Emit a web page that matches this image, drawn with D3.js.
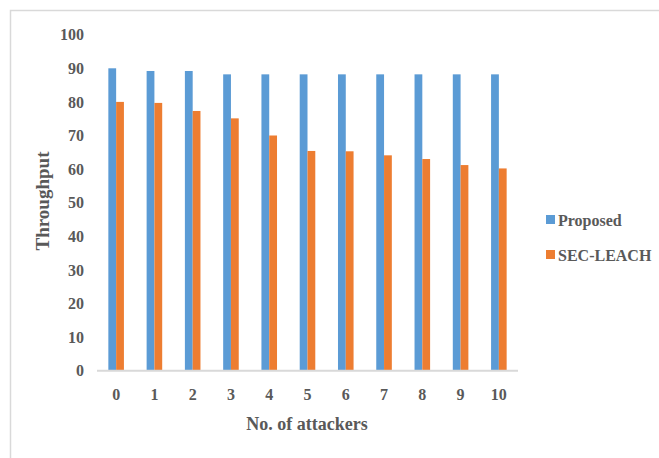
<!DOCTYPE html>
<html>
<head>
<meta charset="utf-8">
<script src="https://cdn.jsdelivr.net/npm/d3@7/dist/d3.min.js"></script>
<style>
  html, body { margin: 0; padding: 0; background: #fff; }
  svg { display: block; }
  text { font-family: "Liberation Serif", "Times New Roman", serif; font-weight: bold; fill: #595959; }
</style>
</head>
<body>
<script>
// Throughput vs. number of attackers
const attackers = ["0", "1", "2", "3", "4", "5", "6", "7", "8", "9", "10"];
const seriesNames = ["Proposed", "SEC-LEACH"];
const proposed = [90, 89.2, 89.2, 88.2, 88.2, 88.2, 88.2, 88.2, 88.2, 88.2, 88.2];
const secLeach = [80, 79.7, 77.3, 75.1, 70, 65.4, 65.3, 64.1, 63, 61.2, 60.2];
const yTicks = [0, 10, 20, 30, 40, 50, 60, 70, 80, 90, 100];
const colors = ["#5b9bd5", "#ed7d31"];

const W = 659, H = 458;
const svg = d3.select("body").append("svg").attr("width", W).attr("height", H);

// outer frame (top and left edges visible)
svg.append("path")
  .attr("d", `M10.5,${H} L10.5,10.5 L${W},10.5`)
  .attr("fill", "none").attr("stroke", "#d9d9d9").attr("stroke-width", 1.5);

const x = d3.scaleBand().domain(attackers).range([97, 518])
  .paddingInner(0.593).paddingOuter(0.2965);
const xs = d3.scaleBand().domain(seriesNames).range([0, x.bandwidth()]);
const y = d3.scaleLinear().domain([0, 100]).range([370.7, 34.7]);

const rows = attackers.map((a, i) => ({ a, vals: [proposed[i], secLeach[i]] }));

// bars
const groups = svg.append("g").selectAll("g").data(rows).join("g")
  .attr("transform", d => `translate(${x(d.a)},0)`);
groups.selectAll("rect")
  .data(d => d.vals.map((v, j) => ({ v, s: seriesNames[j], c: colors[j] })))
  .join("rect")
  .attr("x", d => xs(d.s))
  .attr("width", xs.bandwidth())
  .attr("y", d => y(d.v))
  .attr("height", d => y(0) - y(d.v))
  .attr("fill", d => d.c);

// x axis line
svg.append("line")
  .attr("x1", 97).attr("x2", 518)
  .attr("y1", y(0)).attr("y2", y(0))
  .attr("stroke", "#d9d9d9").attr("stroke-width", 2);

// y tick labels
const yAxis = d3.axisLeft(y).tickValues(yTicks).tickSize(0).tickPadding(0);
const gy = svg.append("g").attr("transform", "translate(84,0)").call(yAxis);
gy.select(".domain").remove();
gy.selectAll("text")
  .attr("font-size", 16).attr("fill", "#595959")
  .style("font-family", "Liberation Serif, serif").style("font-weight", "bold");

// x tick labels
const xAxis = d3.axisBottom(x).tickSize(0).tickPadding(0);
const gx = svg.append("g").attr("transform", "translate(0,389)").call(xAxis);
gx.select(".domain").remove();
gx.selectAll("text")
  .attr("font-size", 16).attr("fill", "#595959")
  .style("font-family", "Liberation Serif, serif").style("font-weight", "bold");

// axis titles
svg.append("text")
  .attr("x", 307).attr("y", 430)
  .attr("text-anchor", "middle").attr("font-size", 18)
  .text("No. of attackers");
svg.append("text")
  .attr("transform", "translate(49,201) rotate(-90)")
  .attr("text-anchor", "middle").attr("font-size", 19)
  .text("Throughput");

// legend
const legend = svg.append("g").selectAll("g").data(seriesNames).join("g")
  .attr("transform", (d, i) => `translate(546,${215 + i * 35})`);
legend.append("rect").attr("width", 9).attr("height", 9)
  .attr("fill", (d, i) => colors[i]);
legend.append("text").attr("x", 12).attr("y", 10.5)
  .attr("font-size", 16).text(d => d);
</script>
</body>
</html>
